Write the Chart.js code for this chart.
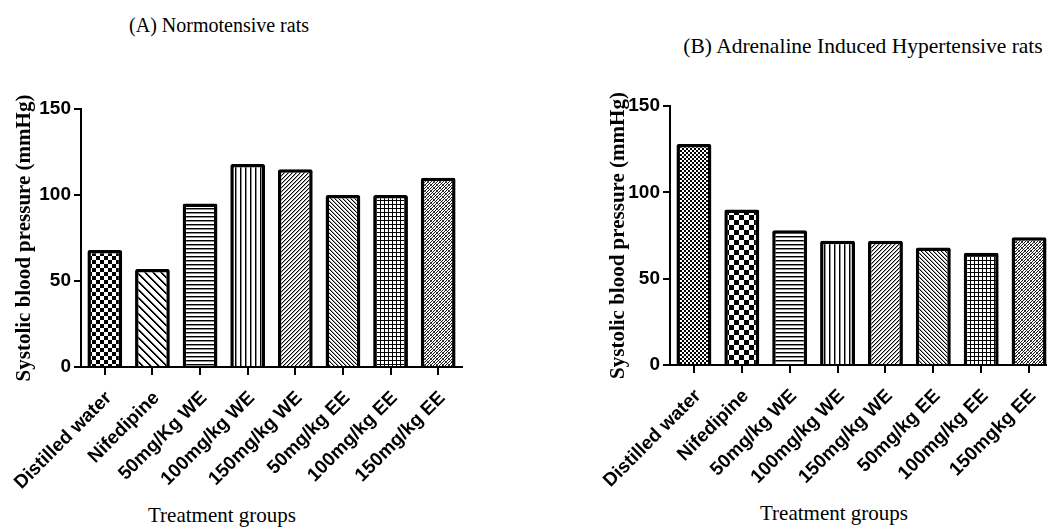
<!DOCTYPE html>
<html>
<head>
<meta charset="utf-8">
<script src="https://cdn.jsdelivr.net/npm/chart.js@4.4.1/dist/chart.umd.min.js"></script>
<style>
  html, body { margin: 0; padding: 0; background: #fff; }
  body { width: 1047px; height: 527px; overflow: hidden; position: relative; }
  canvas { position: absolute; top: 0; }
  .txt { position: absolute; font-family: "Liberation Serif", "Times New Roman", serif; font-size: 20px;
         color: #000; white-space: nowrap; line-height: 1; transform: translate(-50%, -50%); }
</style>
</head>
<body>
<div class="txt" style="left:219px; top:25px;">(A) Normotensive rats</div>
<div class="txt" style="left:863px; top:47px; font-size:21.5px;">(B) Adrenaline Induced Hypertensive rats</div>
<div class="txt" style="left:222px; top:515px; font-size:21px;">Treatment groups</div>
<div class="txt" style="left:834px; top:513px; font-size:21px;">Treatment groups</div>
<canvas id="chartA" width="480" height="527" style="left:0px"></canvas>
<canvas id="chartB" width="480" height="527" style="left:594px"></canvas>
<script>
// Treatment groups and mean systolic blood pressure (mmHg)
const groupsA = ['Distilled water', 'Nifedipine', '50mg/Kg WE', '100mg/kg WE', '150mg/kg WE', '50mg/kg EE', '100mg/kg EE', '150mg/kg EE'];
const groupsB = ['Distilled water', 'Nifedipine', '50mg/kg WE', '100mg/kg WE', '150mg/kg WE', '50mg/kg EE', '100mg/kg EE', '150mgkg EE'];
const sbpNormotensive = [68, 57, 95, 118, 115, 100, 100, 110];
const sbpHypertensive = [128, 90, 78, 72, 72, 68, 65, 74];
const yTicks = [0, 50, 100, 150];
const yAxisTitle = 'Systolic blood pressure (mmHg)';

// Monochrome hatch fills built pixel by pixel on small tiles; ink() returns darkness 0..1
function tile(size, ink) {
  const c = document.createElement('canvas');
  c.width = size; c.height = size;
  const ctx = c.getContext('2d');
  const img = ctx.createImageData(size, size);
  for (let y = 0; y < size; y++) {
    for (let x = 0; x < size; x++) {
      const d = Number(ink(x, y)) || 0;
      const v = Math.round(255 * (1 - d));
      const i = (y * size + x) * 4;
      img.data[i] = v; img.data[i + 1] = v; img.data[i + 2] = v; img.data[i + 3] = 255;
    }
  }
  ctx.putImageData(img, 0, 0);
  return ctx.createPattern(c, 'repeat');
}
const checker = cell => tile(cell * 2, (x, y) => ((Math.floor(x / cell) + Math.floor(y / cell)) % 2) === 0);
const hLines = p => tile(p, (x, y) => (y === 0 ? 1 : y === 1 ? 0.45 : 0));
const vLines = p => tile(p, (x, y) => (x === 0 ? 1 : x === 1 ? 0.45 : 0));
const slash = (p, w) => tile(p, (x, y) => (((x + y) % p) < w ? 1 : ((x + y) % p) === w ? 0.35 : 0));
const backslash = (p, w) => tile(p, (x, y) => { const k = (x - y + p * 10) % p; return k < w ? 1 : k === w ? 0.35 : 0; });
const grid = p => tile(p, (x, y) => (x === 0 || y === 0 ? 1 : 0));
const dense = () => tile(6, (x, y) => (((x + y) % 3) === 0 ? 0.9 : ((x - y + 60) % 6) === 0 ? 0.7 : 0));

const fillsA = [checker(4), backslash(8, 2), hLines(4), vLines(5), slash(4, 1), backslash(4, 1), grid(4), dense()];
const fillsB = [checker(2), checker(5), hLines(4), vLines(5), slash(4, 1), backslash(4, 1), grid(4), dense()];

function buildChart(id, labels, values, fills, yWidth, top, xHeight, padRight) {
  return new Chart(document.getElementById(id), {
    type: 'bar',
    data: {
      labels: labels,
      datasets: [{
        data: values,
        backgroundColor: fills,
        borderColor: '#000',
        borderWidth: 3.5,
        borderRadius: 2,
        borderSkipped: 'start',
        barPercentage: 0.73,
        categoryPercentage: 1
      }]
    },
    options: {
      responsive: false,
      animation: false,
      devicePixelRatio: 1,
      layout: { padding: { top: top, right: padRight, bottom: 0, left: 0 } },
      plugins: { legend: { display: false }, tooltip: { enabled: false }, title: { display: false } },
      scales: {
        x: {
          type: 'category',
          offset: true,
          grid: { display: true, offset: false, drawOnChartArea: false, drawTicks: true, tickLength: 8, color: '#000', lineWidth: 2 },
          border: { display: true, color: '#000', width: 2 },
          ticks: {
            autoSkip: false, minRotation: 45, maxRotation: 45, padding: 12, labelOffset: 4, color: '#000',
            font: { family: '"Liberation Sans", Arial, sans-serif', size: 19, weight: 'bold' }
          },
          // fixed axis band; rotated labels may overhang into the y-axis area
          afterFit: s => { s.height = xHeight; s.paddingLeft = 0; s.paddingRight = 0; }
        },
        y: {
          min: 0, max: 150,
          afterBuildTicks: s => { s.ticks = yTicks.map(v => ({ value: v })); },
          grid: { display: true, drawOnChartArea: false, drawTicks: true, tickLength: 7, color: '#000', lineWidth: 2 },
          border: { display: true, color: '#000', width: 2 },
          ticks: {
            padding: 3, color: '#000',
            font: { family: '"Liberation Sans", Arial, sans-serif', size: 19, weight: 'bold' }
          },
          title: {
            display: true, text: yAxisTitle, color: '#000',
            font: { family: '"Liberation Serif", "Times New Roman", serif', size: 21, weight: 'bold', lineHeight: 1.2 },
            padding: { top: 12, bottom: 0 }
          },
          afterFit: s => { s.width = yWidth; }
        }
      }
    }
  });
}

buildChart('chartA', groupsA, sbpNormotensive, fillsA, 81, 109, 160, 18);
buildChart('chartB', groupsB, sbpHypertensive, fillsB, 76, 106, 162, 21);
</script>
</body>
</html>
